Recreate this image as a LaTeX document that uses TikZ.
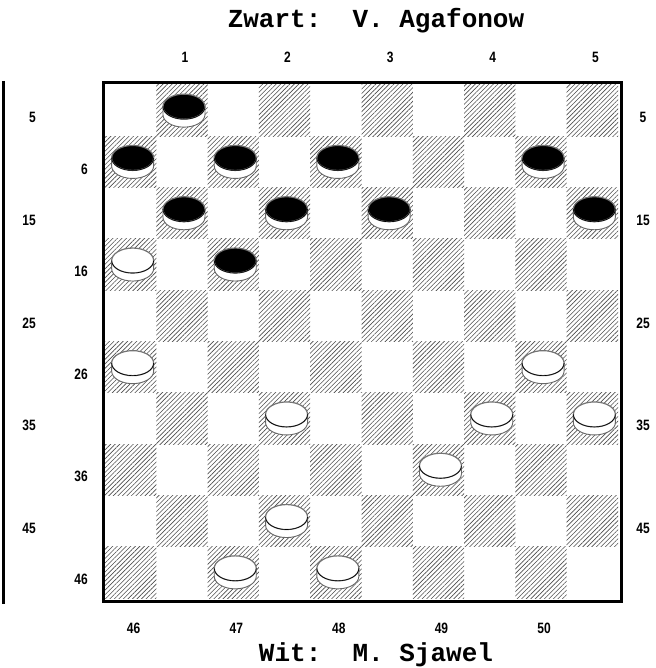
\documentclass[tikz,border=0pt]{standalone}
\usepackage{fontspec}
\usepackage{tikz}
\usetikzlibrary{patterns.meta}
\newfontfamily\numfont{Liberation Sans}[FakeStretch=0.8]
\newfontfamily\titlefont{Liberation Mono}
\newcommand{\drawstone}[3]{%
    \pgfmathsetmacro\sx{105+(#1-0.5)*51.3+2}
    \pgfmathsetmacro\sy{85+(#2-0.5)*51.3-4}
    \filldraw[fill=white, draw=black!60, line width=0.9pt]
        (\sx-21,\sy) -- (\sx-21,\sy+8)
        arc[start angle=180, end angle=0, x radius=21, y radius=12.5]
        -- (\sx+21,\sy) -- cycle;
    \filldraw[fill=#3, draw=black!55, line width=1.2pt] (\sx,\sy) ellipse[x radius=21, y radius=12.5];
    \draw[line width=0.6pt] (\sx-21,\sy) arc[start angle=180, end angle=0, x radius=21, y radius=12.5];
}

\begin{document}
\begin{tikzpicture}[x=1pt, y=-1pt,
    num/.style={font=\numfont\fontsize{15}{15}\selectfont\bfseries, inner sep=0pt},
    title/.style={font=\titlefont\fontsize{26}{26}\selectfont\bfseries, inner sep=0pt}]
    \useasboundingbox (0,0) rectangle (655,668);
    % dark squares
    \foreach \r in {1,...,10}
        \foreach \k in {0,...,4} {
            \pgfmathtruncatemacro\c{2*\k+1+mod(\r,2)}
            \fill[pattern={Lines[angle=45, distance=3.2pt, line width=0.6pt]}, pattern color=black!70]
                ({105+(\c-1)*51.3},{85+(\r-1)*51.3}) rectangle +(51.3,51.3);
        }
    \draw[line width=3pt] (103,83) rectangle (621,601);
    \draw[line width=3pt] (3,81) -- (3,604);
    % black
    \foreach \c/\r in {2/1, 1/2, 3/2, 5/2, 9/2, 2/3, 4/3, 6/3, 10/3, 3/4}
        \drawstone{\c}{\r}{black};
    % white
    \foreach \c/\r in {1/4, 1/6, 9/6, 4/7, 8/7, 10/7, 7/8, 4/9, 3/10, 5/10}
        \drawstone{\c}{\r}{white};
    % numbers
    \foreach \n [count=\i] in {1,...,5} {
        \node[num] (top\n) at ({105+(2*\i-0.5)*51.3+3}, 57) {\n};
        \node[num] (bot\n) at ({105+(2*\i-1.5)*51.3+3}, 628) {\the\numexpr45+\i\relax};
        \node[num, anchor=east] (outer\n) at (36, {85+(2*\i-1.5)*51.3+7}) {\the\numexpr10*\i-5\relax};
        \node[num] (right\n) at (643, {85+(2*\i-1.5)*51.3+7}) {\the\numexpr10*\i-5\relax};
        \node[num, anchor=east] (inner\n) at (88, {85+(2*\i-0.5)*51.3+7}) {\the\numexpr10*\i-4\relax};
    }
    \node[title] (zwart) at (376, 21) {Zwart:\ \ V.\ Agafonow};
    \node[title] (wit) at (376, 655) {Wit:\ \ M.\ Sjawel};
\end{tikzpicture}
\end{document}
